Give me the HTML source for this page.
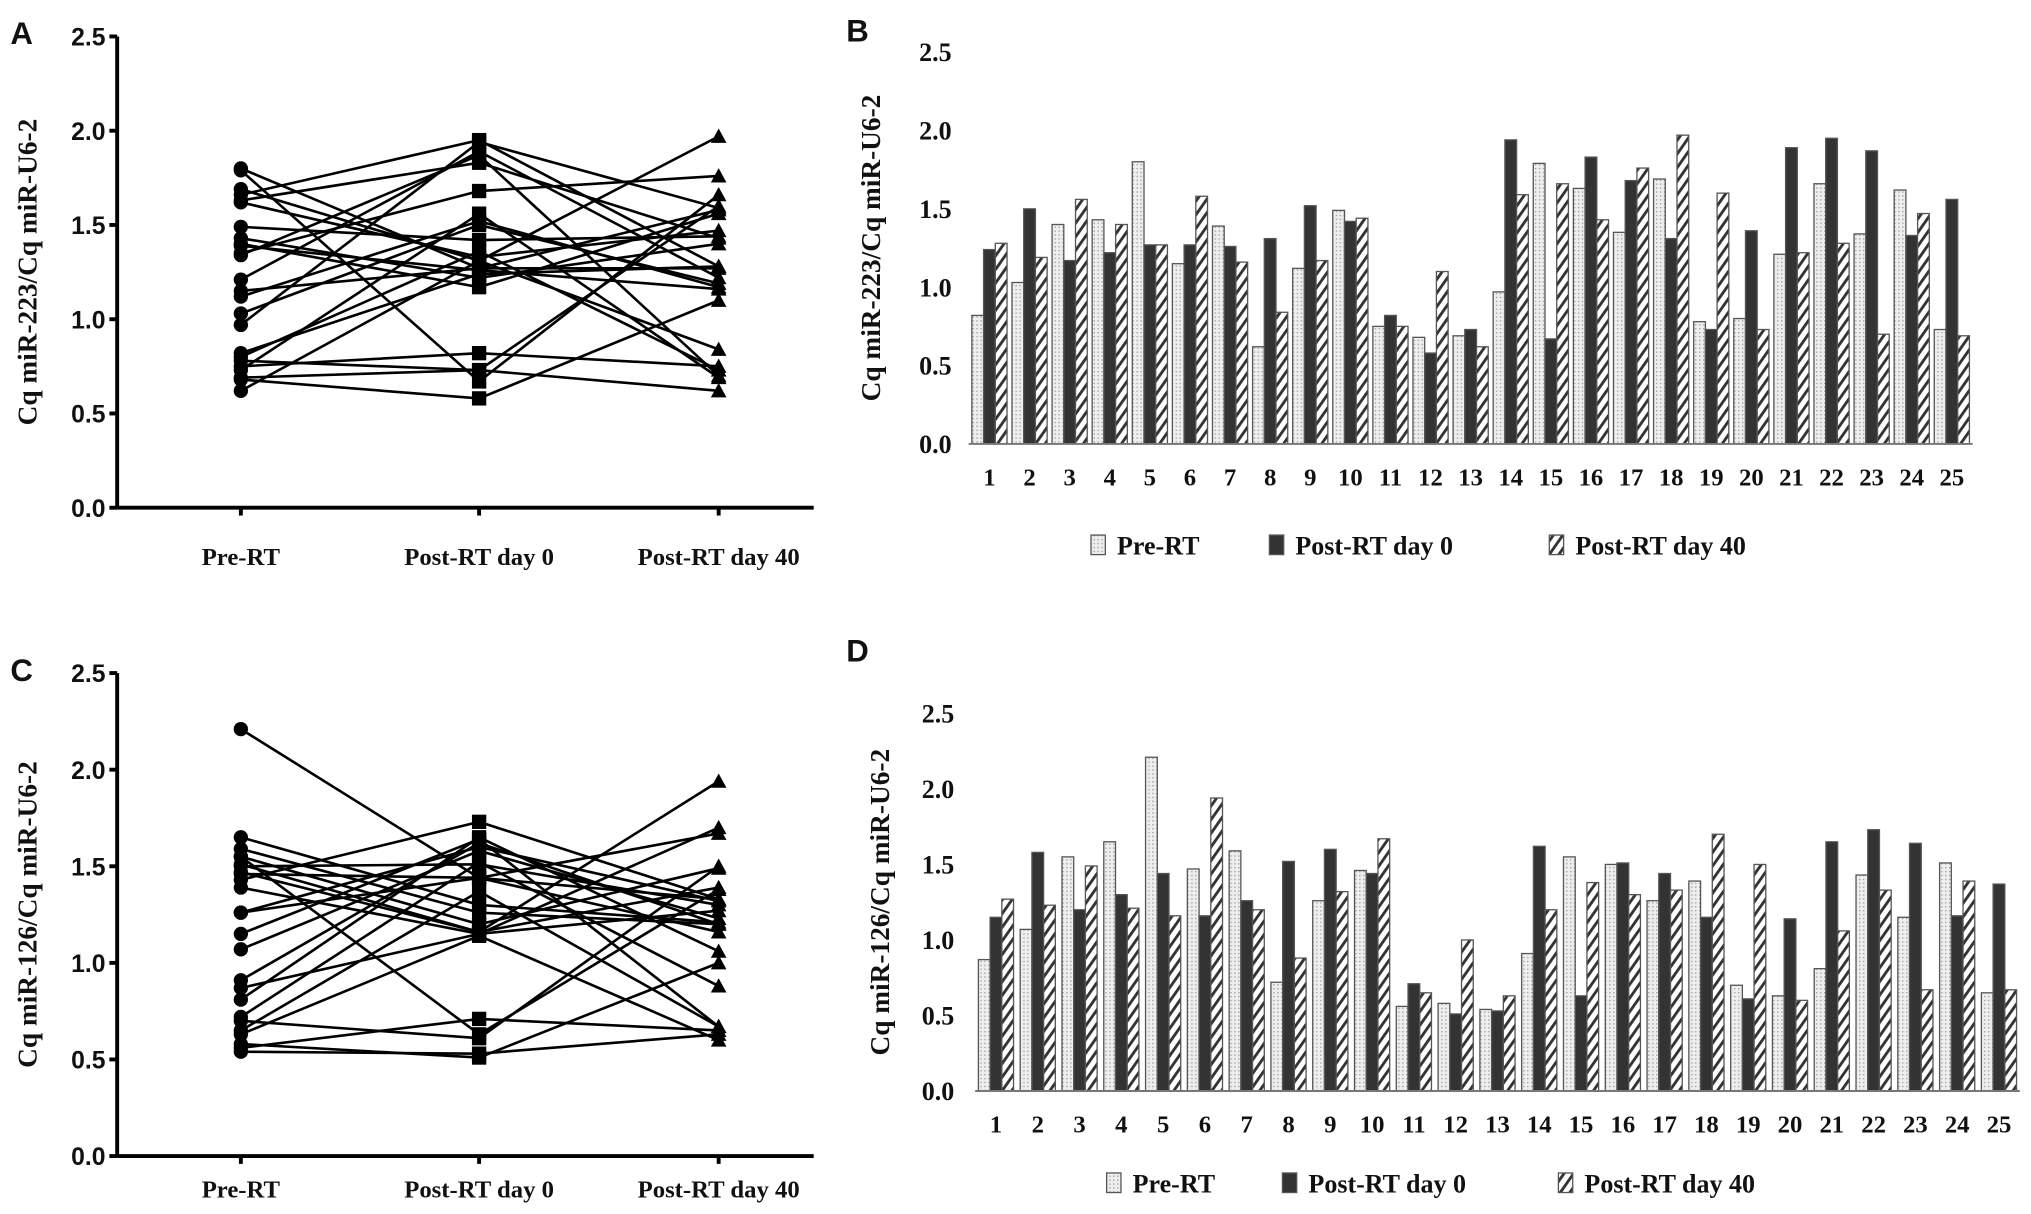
<!DOCTYPE html>
<html><head><meta charset="utf-8">
<style>
html,body{margin:0;padding:0;background:#fff;}
svg{display:block;}
text{font-family:"Liberation Serif",serif;font-weight:bold;fill:#111;}
.pl{font-family:"Liberation Sans",sans-serif;font-weight:bold;font-size:24px;}
.st{font-family:"Liberation Sans",sans-serif;}
</style></head>
<body>
<svg id="fig" width="2031" height="1214" viewBox="0 0 1560 932.5" preserveAspectRatio="none" xmlns="http://www.w3.org/2000/svg">
<defs>
<pattern id="dots" width="3" height="3" patternUnits="userSpaceOnUse"><rect width="3" height="3" fill="#eee"/><rect width="1" height="1" fill="#999"/></pattern>
<pattern id="hatch" width="6" height="6" patternUnits="userSpaceOnUse" patternTransform="rotate(35)"><rect width="6" height="6" fill="#fff"/><rect width="2.2" height="6" fill="#333"/></pattern>
</defs>
<g id="root"></g>
</svg>
<script>
const patients = ["1","2","3","4","5","6","7","8","9","10","11","12","13","14","15","16","17","18","19","20","21","22","23","24","25"];
const groups = ["Pre-RT","Post-RT day 0","Post-RT day 40"];
const yTicks = [0,0.5,1.0,1.5,2.0,2.5];
const yTickLabels = ["0.0","0.5","1.0","1.5","2.0","2.5"];
const m223Pre = [0.82,1.03,1.40,1.43,1.80,1.15,1.39,0.62,1.12,1.49,0.75,0.68,0.69,0.97,1.79,1.63,1.35,1.69,0.78,0.80,1.21,1.66,1.34,1.62,0.73];
const m223Day0 = [1.24,1.50,1.17,1.22,1.27,1.27,1.26,1.31,1.52,1.42,0.82,0.58,0.73,1.94,0.67,1.83,1.68,1.31,0.73,1.36,1.89,1.95,1.87,1.33,1.56];
const m223Day40 = [1.28,1.19,1.56,1.40,1.27,1.58,1.16,0.84,1.17,1.44,0.75,1.10,0.62,1.59,1.66,1.43,1.76,1.97,1.60,0.73,1.22,1.28,0.70,1.47,0.69];
const m126Pre = [0.87,1.07,1.55,1.65,2.21,1.47,1.59,0.72,1.26,1.46,0.56,0.58,0.54,0.91,1.55,1.50,1.26,1.39,0.70,0.63,0.81,1.43,1.15,1.51,0.65];
const m126Day0 = [1.15,1.58,1.20,1.30,1.44,1.16,1.26,1.52,1.60,1.44,0.71,0.51,0.53,1.62,0.63,1.51,1.44,1.15,0.61,1.14,1.65,1.73,1.64,1.16,1.37];
const m126Day40 = [1.27,1.23,1.49,1.21,1.16,1.94,1.20,0.88,1.32,1.67,0.65,1.00,0.63,1.20,1.38,1.30,1.33,1.70,1.50,0.60,1.06,1.33,0.67,1.39,0.67];

const NS="http://www.w3.org/2000/svg";
const root=document.getElementById('root');
function el(tag,attrs,parent,txt){const e=document.createElementNS(NS,tag);for(const k in attrs)e.setAttribute(k,attrs[k]);if(txt!==undefined)e.textContent=txt;(parent||root).appendChild(e);return e;}

function linePanel(letter,yTop,yZero,series,ylabel,labOff){
  const g=el('g',{});
  
  
  const y=v=>yZero-(v/2.5)*(yZero-yTop);
  const xs=[185,368,552];
  const x=i=>xs[i];
  const t=el('text',{x:8,y:yTop+6,class:'pl'},g,letter);
  
  
  el('line',{x1:90,y1:yTop,x2:90,y2:yZero,stroke:'#000','stroke-width':3},g);
  el('line',{x1:90,y1:yZero,x2:625,y2:yZero,stroke:'#000','stroke-width':3},g);
  yTicks.forEach((v,i)=>{
    el('line',{x1:84,y1:y(v),x2:90,y2:y(v),stroke:'#000','stroke-width':3},g);
    const tl=el('text',{x:81,y:y(v)+7,'text-anchor':'end','font-size':19,class:'st'},g,yTickLabels[i]);
    
    
  });
  groups.forEach((c,i)=>{
    el('line',{x1:x(i),y1:yZero,x2:x(i),y2:yZero+6,stroke:'#000','stroke-width':3},g);
    const tl=el('text',{x:x(i),y:yZero+labOff,'text-anchor':'middle','font-size':19},g,c);
    
    
  });
  const yl=el('text',{transform:`translate(28,${(yTop+yZero)/2}) rotate(-90)`,'text-anchor':'middle','font-size':21},g,ylabel);
  
  
  for(let p=0;p<patients.length;p++){
    const pts=series.map((s,i)=>x(i)+','+y(s[p])).join(' ');
    const pl=el('polyline',{points:pts,fill:'none',stroke:'#000','stroke-width':2},g);
    
    
  }
  for(let p=0;p<patients.length;p++){
    const c=el('circle',{cx:x(0),cy:y(series[0][p]),r:5.5,fill:'#000'},g);
    
    
    const s=el('rect',{x:x(1)-5.5,y:y(series[1][p])-5.5,width:11,height:11,fill:'#000'},g);
    
    
    const ty=y(series[2][p]);
    const tr=el('polygon',{points:`${x(2)-6},${ty+5} ${x(2)+6},${ty+5} ${x(2)},${ty-6}`,fill:'#000'},g);
    
    
  }
}

function barPanel(letter,yTop,yZero,x0,step,series,ylabel,yTickX,ylX,legY,legXs,letterY){
  const g=el('g',{});
  
  
  const y=v=>yZero-(v/2.5)*(yZero-yTop);
  const x=i=>x0+i*step;
  const t=el('text',{x:650,y:letterY,class:'pl'},g,letter);
  
  
  yTicks.forEach((v,i)=>{
    const tl=el('text',{x:yTickX,y:y(v)+7,'text-anchor':'end','font-size':20},g,yTickLabels[i]);
    
    
  });
  const yl=el('text',{transform:`translate(${ylX},${(yTop+yZero)/2}) rotate(-90)`,'text-anchor':'middle','font-size':21},g,ylabel);
  
  
  const fills=['url(#dots)','#333','url(#hatch)'];
  const names=['pre-rt','day0','day40'];
  const bw=9;
  patients.forEach((p,i)=>{
    series.forEach((s,k)=>{
      const bx=x(i)-13.5+k*bw;
      const r=el('rect',{x:bx,y:y(s[i]),width:bw,height:yZero-y(s[i]),fill:fills[k],stroke:'#555','stroke-width':1},g);
      
      
    });
    const tl=el('text',{x:x(i),y:yZero+32,'text-anchor':'middle','font-size':19},g,p);
    
    
  });
  el('line',{x1:x(0)-16,y1:yZero,x2:x(24)+16,y2:yZero,stroke:'#777','stroke-width':1.5},g);
  groups.forEach((c,k)=>{
    const lg=el('g',{},g);
    
    
    el('rect',{x:legXs[k],y:legY-8,width:11,height:15,fill:fills[k],stroke:'#555','stroke-width':1},lg);
    el('text',{x:legXs[k]+20,y:legY+7,'font-size':20},lg,c);
  });
}

linePanel('A',28,390,[m223Pre,m223Day0,m223Day40],'Cq miR-223/Cq miR-U6-2',44);
linePanel('C',517,888,[m126Pre,m126Day0,m126Day40],'Cq miR-126/Cq miR-U6-2',32);
barPanel('B',40,341,760,30.8,[m223Pre,m223Day0,m223Day40],'Cq miR-223/Cq miR-U6-2',731,676,419,[838,975,1190],32);
barPanel('D',548,838,765,32.1,[m126Pre,m126Day0,m126Day40],'Cq miR-126/Cq miR-U6-2',733,683,909,[850,985,1197],508);
</script>
</body></html>
